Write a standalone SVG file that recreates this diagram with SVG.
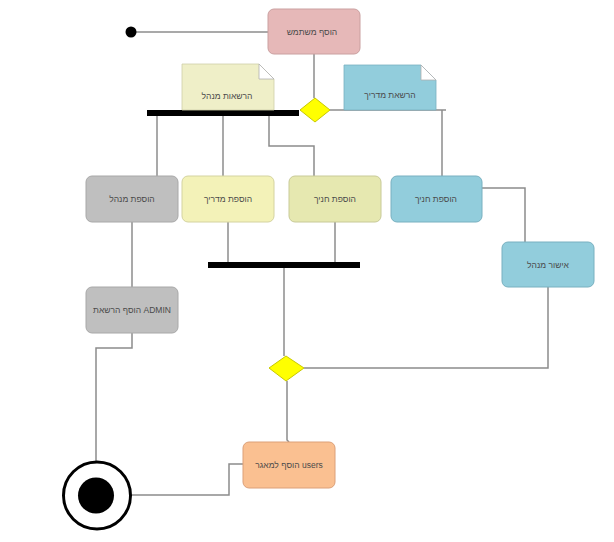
<svg xmlns="http://www.w3.org/2000/svg" width="614" height="542" viewBox="0 0 614 542">
  <style>
    .edge { fill: none; stroke: #8c8c8c; stroke-width: 1.5; }
    .node rect { stroke-width: 1; }
    .lbl { font-family: "Liberation Sans", "DejaVu Sans", sans-serif; font-size: 8.5px; fill: #4a4a4a; text-anchor: middle; dominant-baseline: central; }
    .bar { fill: #000; }
    .decision { fill: #ffff00; stroke: #c8c800; stroke-width: 1; }
    .fold { fill: #ffffff; stroke: #b0b0b0; stroke-width: 0.8; }
  </style>
  <rect width="614" height="542" fill="#ffffff"/>

  <!-- connectors -->
  <g id="connectors">
    <path class="edge" d="M131,32 H268"/>
    <path class="edge" d="M314,54 V98"/>
    <path class="edge" d="M330,110 H446"/>
    <path class="edge" d="M442,110 V176"/>
    <path class="edge" d="M157,116 V176"/>
    <path class="edge" d="M223,116 V176"/>
    <path class="edge" d="M269,116 V146 H314 V176"/>
    <path class="edge" d="M482,188 H525 V242"/>
    <path class="edge" d="M228,222 V262"/>
    <path class="edge" d="M335,222 V262"/>
    <path class="edge" d="M132,222 V287"/>
    <path class="edge" d="M284,268 V356"/>
    <path class="edge" d="M548,287 V368 H304"/>
    <path class="edge" d="M287,381 V440 L289,442"/>
    <path class="edge" d="M132,333 V348 H96 V461"/>
    <path class="edge" d="M243,464 H229 V495 H131"/>
  </g>

  <!-- start -->
  <g id="start">
    <circle cx="131" cy="32" r="5.5" fill="#000"/>
  </g>

  <g id="add-user" class="node">
    <rect x="268" y="9" width="92" height="45" rx="6" fill="#e6b8b8" stroke="#caa0a0"/>
    <text class="lbl" x="312" y="32">הוסף משתמש</text>
  </g>

  <g id="decision-role">
    <polygon class="decision" points="315,98 330,110 315,122 300,110"/>
  </g>

  <g id="fork-top">
    <rect class="bar" x="147" y="110" width="152" height="6"/>
  </g>

  <g id="note-admin-perms" class="node">
    <path d="M182,64 H259 L274,79 V110 H182 Z" fill="#efefc8" stroke="#cfcfa8" stroke-width="0.8"/>
    <path class="fold" d="M259,64 V79 H274 Z"/>
    <text class="lbl" x="227" y="96">הרשאות מנהל</text>
  </g>

  <g id="note-guide-perms" class="node">
    <path d="M344,65 H421 L436,80 V110 H344 Z" fill="#92cddc" stroke="#78b0c0" stroke-width="0.8"/>
    <path class="fold" d="M421,65 V80 H436 Z"/>
    <text class="lbl" x="390" y="95">הרשאת מדריך</text>
  </g>

  <g id="add-admin" class="node">
    <rect x="86" y="176" width="92" height="46" rx="6" fill="#bfbfbf" stroke="#a8a8a8"/>
    <text class="lbl" x="132" y="199">הוספת מנהל</text>
  </g>

  <g id="add-guide" class="node">
    <rect x="182" y="176" width="92" height="46" rx="6" fill="#f3f2b8" stroke="#d4d3a0"/>
    <text class="lbl" x="228" y="199">הוספת מדריך</text>
  </g>

  <g id="add-trainee" class="node">
    <rect x="289" y="176" width="92" height="46" rx="6" fill="#e6e8b0" stroke="#c8ca98"/>
    <text class="lbl" x="335" y="199">הוספת חניך</text>
  </g>

  <g id="add-trainee-blue" class="node">
    <rect x="391" y="176" width="91" height="46" rx="6" fill="#92cddc" stroke="#78b0c0"/>
    <text class="lbl" x="436" y="199">הוספת חניך</text>
  </g>

  <g id="join-bar">
    <rect class="bar" x="208" y="262" width="152" height="6"/>
  </g>

  <g id="admin-approval" class="node">
    <rect x="502" y="242" width="92" height="45" rx="6" fill="#92cddc" stroke="#78b0c0"/>
    <text class="lbl" x="548" y="265">אישור מנהל</text>
  </g>

  <g id="add-admin-perm" class="node">
    <rect x="86" y="287" width="92" height="46" rx="6" fill="#bfbfbf" stroke="#a8a8a8"/>
    <text class="lbl" x="132" y="310">הוסף הרשאת ADMIN</text>
  </g>

  <g id="decision-merge">
    <polygon class="decision" points="286,356 304,368 286,381 269,368"/>
  </g>

  <g id="add-to-db" class="node">
    <rect x="243" y="442" width="92" height="46" rx="6" fill="#fac091" stroke="#dca078"/>
    <text class="lbl" x="289" y="465">הוסף למאגר users</text>
  </g>

  <!-- end -->
  <g id="end">
    <circle cx="97" cy="495.5" r="33.5" fill="#ffffff" stroke="#000" stroke-width="3"/>
    <circle cx="96" cy="495.5" r="18" fill="#000"/>
  </g>
</svg>
